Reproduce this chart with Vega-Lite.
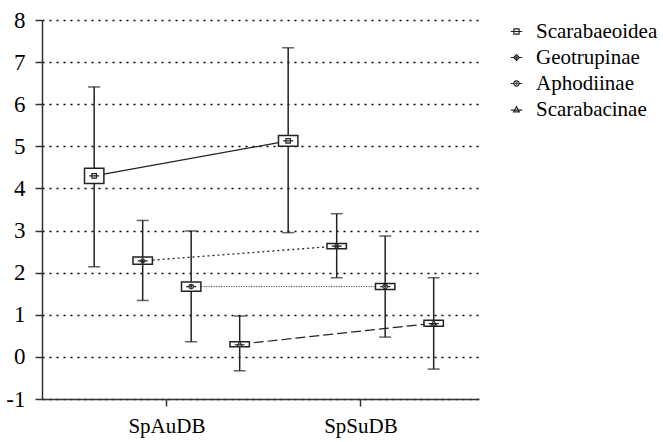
{
  "$schema": "https://vega.github.io/schema/vega-lite/v6.json",
  "width": 437,
  "height": 379,
  "autosize": {"type": "none"},
  "padding": {"left": 42, "top": 20, "right": 184, "bottom": 43},
  "background": "white",
  "config": {
    "view": {"stroke": null},
    "font": "Liberation Serif",
    "axis": {"labelFont": "Liberation Serif", "labelColor": "black", "domainColor": "#333", "domainWidth": 1.5, "tickColor": "#333", "tickWidth": 1.5, "tickSize": 7},
    "legend": {"labelFont": "Liberation Serif"}
  },
  "datasets": {
    "stats": [
      {"series": "Scarabaeoidea", "period": "SpAuDB", "mean": 4.3, "lo": 2.14, "hi": 6.41, "boxLo": 4.12, "boxHi": 4.48},
      {"series": "Scarabaeoidea", "period": "SpSuDB", "mean": 5.13, "lo": 2.95, "hi": 7.34, "boxLo": 5.0, "boxHi": 5.26},
      {"series": "Geotrupinae", "period": "SpAuDB", "mean": 2.28, "lo": 1.34, "hi": 3.24, "boxLo": 2.2, "boxHi": 2.37},
      {"series": "Geotrupinae", "period": "SpSuDB", "mean": 2.63, "lo": 1.88, "hi": 3.4, "boxLo": 2.57, "boxHi": 2.69},
      {"series": "Aphodiinae", "period": "SpAuDB", "mean": 1.67, "lo": 0.36, "hi": 2.99, "boxLo": 1.56, "boxHi": 1.78},
      {"series": "Aphodiinae", "period": "SpSuDB", "mean": 1.67, "lo": 0.47, "hi": 2.87, "boxLo": 1.6, "boxHi": 1.74},
      {"series": "Scarabacinae", "period": "SpAuDB", "mean": 0.3, "lo": -0.33, "hi": 0.97, "boxLo": 0.24, "boxHi": 0.36},
      {"series": "Scarabacinae", "period": "SpSuDB", "mean": 0.8, "lo": -0.29, "hi": 1.88, "boxLo": 0.73, "boxHi": 0.87}
    ]
  },
  "data": {"name": "stats"},
  "layer": [
    {
      "mark": {"type": "rule", "color": "#222", "strokeWidth": 1.5},
      "encoding": {
        "x": {
          "field": "period", "type": "nominal",
          "scale": {"type": "band", "paddingInner": 0, "paddingOuter": 0.1263, "align": 0.57},
          "axis": {"title": null, "labelAngle": 0, "labelFont": "Liberation Serif", "labelFontSize": 21, "labelPadding": 9, "grid": false}
        },
        "xOffset": {
          "field": "series", "type": "nominal",
          "scale": {"domain": ["Scarabaeoidea", "Geotrupinae", "Aphodiinae", "Scarabacinae"], "paddingInner": 0.6, "paddingOuter": 0.3}
        },
        "y": {
          "field": "lo", "type": "quantitative",
          "scale": {"domain": [-1, 8], "nice": false, "zero": false},
          "axis": {"title": null, "values": [-1, 0, 1, 2, 3, 4, 5, 6, 7, 8], "labelExpr": "datum.value + ''", "labelFont": "Liberation Serif", "labelFontSize": 23, "labelPadding": 10, "grid": true, "gridColor": "black", "gridDash": [2, 5], "gridWidth": 1.5}
        },
        "y2": {"field": "hi"}
      }
    },
    {
      "mark": {"type": "tick", "color": "#222", "size": 12, "thickness": 1.5},
      "encoding": {"x": {"field": "period", "type": "nominal"}, "xOffset": {"field": "series", "type": "nominal"}, "y": {"field": "lo", "type": "quantitative"}}
    },
    {
      "mark": {"type": "tick", "color": "#222", "size": 12, "thickness": 1.5},
      "encoding": {"x": {"field": "period", "type": "nominal"}, "xOffset": {"field": "series", "type": "nominal"}, "y": {"field": "hi", "type": "quantitative"}}
    },
    {
      "transform": [{"filter": "datum.series === 'Scarabaeoidea'"}],
      "mark": {"type": "line", "color": "#222", "strokeWidth": 1.2},
      "encoding": {"x": {"field": "period", "type": "nominal"}, "xOffset": {"field": "series", "type": "nominal"}, "y": {"field": "mean", "type": "quantitative"}}
    },
    {
      "transform": [{"filter": "datum.series === 'Geotrupinae'"}],
      "mark": {"type": "line", "color": "#222", "strokeWidth": 1.3, "strokeDash": [2, 3]},
      "encoding": {"x": {"field": "period", "type": "nominal"}, "xOffset": {"field": "series", "type": "nominal"}, "y": {"field": "mean", "type": "quantitative"}}
    },
    {
      "transform": [{"filter": "datum.series === 'Aphodiinae'"}],
      "mark": {"type": "line", "color": "#222", "strokeWidth": 1, "strokeDash": [1, 1.5]},
      "encoding": {"x": {"field": "period", "type": "nominal"}, "xOffset": {"field": "series", "type": "nominal"}, "y": {"field": "mean", "type": "quantitative"}}
    },
    {
      "transform": [{"filter": "datum.series === 'Scarabacinae'"}],
      "mark": {"type": "line", "color": "#222", "strokeWidth": 1.2, "strokeDash": [10, 4]},
      "encoding": {"x": {"field": "period", "type": "nominal"}, "xOffset": {"field": "series", "type": "nominal"}, "y": {"field": "mean", "type": "quantitative"}}
    },
    {
      "mark": {"type": "bar", "fill": "white", "stroke": "#222", "strokeWidth": 1.5},
      "encoding": {"x": {"field": "period", "type": "nominal"}, "xOffset": {"field": "series", "type": "nominal"}, "y": {"field": "boxLo", "type": "quantitative"}, "y2": {"field": "boxHi"}}
    },
    {
      "transform": [{"filter": "datum.series === 'Scarabaeoidea'"}],
      "mark": {"type": "point", "shape": "M-1,0H1M-0.45,-0.45H0.45V0.45H-0.45Z", "filled": false, "fill": "white", "stroke": "#222", "strokeWidth": 1.2, "size": 100, "opacity": 1},
      "encoding": {"x": {"field": "period", "type": "nominal"}, "xOffset": {"field": "series", "type": "nominal"}, "y": {"field": "mean", "type": "quantitative"}}
    },
    {
      "transform": [{"filter": "datum.series === 'Geotrupinae'"}],
      "mark": {"type": "point", "shape": "M-1,0H-0.5M0.5,0H1M0,-0.5L0.5,0L0,0.5L-0.5,0ZM-0.12,0A0.12,0.12 0 1,0 0.12,0A0.12,0.12 0 1,0 -0.12,0Z", "filled": false, "fill": "white", "stroke": "#222", "strokeWidth": 1.2, "size": 100, "opacity": 1},
      "encoding": {"x": {"field": "period", "type": "nominal"}, "xOffset": {"field": "series", "type": "nominal"}, "y": {"field": "mean", "type": "quantitative"}}
    },
    {
      "transform": [{"filter": "datum.series === 'Aphodiinae'"}],
      "mark": {"type": "point", "shape": "M-1,0H-0.45M0.45,0H1M-0.45,0A0.45,0.45 0 1,0 0.45,0A0.45,0.45 0 1,0 -0.45,0ZM-0.12,0A0.12,0.12 0 1,0 0.12,0A0.12,0.12 0 1,0 -0.12,0Z", "filled": false, "fill": "white", "stroke": "#222", "strokeWidth": 1.2, "size": 100, "opacity": 1},
      "encoding": {"x": {"field": "period", "type": "nominal"}, "xOffset": {"field": "series", "type": "nominal"}, "y": {"field": "mean", "type": "quantitative"}}
    },
    {
      "transform": [{"filter": "datum.series === 'Scarabacinae'"}],
      "mark": {"type": "point", "shape": "M-1,0.1H1M0,-0.5L0.5,0.4L-0.5,0.4Z", "filled": false, "fill": "white", "stroke": "#222", "strokeWidth": 1.2, "size": 100, "opacity": 1},
      "encoding": {"x": {"field": "period", "type": "nominal"}, "xOffset": {"field": "series", "type": "nominal"}, "y": {"field": "mean", "type": "quantitative"}}
    },
    {
      "transform": [{"filter": "false"}],
      "mark": {"type": "point", "color": "#222", "filled": false},
      "encoding": {
        "shape": {
          "field": "series", "type": "nominal",
          "scale": {
            "domain": ["Scarabaeoidea", "Geotrupinae", "Aphodiinae", "Scarabacinae"],
            "range": [
              "M-1,0H1M-0.45,-0.45H0.45V0.45H-0.45Z",
              "M-1,0H-0.5M0.5,0H1M0,-0.5L0.5,0L0,0.5L-0.5,0ZM-0.12,0A0.12,0.12 0 1,0 0.12,0A0.12,0.12 0 1,0 -0.12,0Z",
              "M-1,0H-0.45M0.45,0H1M-0.45,0A0.45,0.45 0 1,0 0.45,0A0.45,0.45 0 1,0 -0.45,0ZM-0.12,0A0.12,0.12 0 1,0 0.12,0A0.12,0.12 0 1,0 -0.12,0Z",
              "M-1,0.1H1M0,-0.5L0.5,0.4L-0.5,0.4Z"
            ]
          },
          "legend": {
            "title": null, "orient": "none", "legendX": 464, "legendY": 1,
            "labelFont": "Liberation Serif", "labelFontSize": 21, "labelColor": "black",
            "symbolSize": 130, "symbolStrokeColor": "#222", "symbolFillColor": "white", "symbolStrokeWidth": 1.2, "symbolOpacity": 1,
            "rowPadding": 4, "labelOffset": 9
          }
        }
      }
    }
  ]
}
